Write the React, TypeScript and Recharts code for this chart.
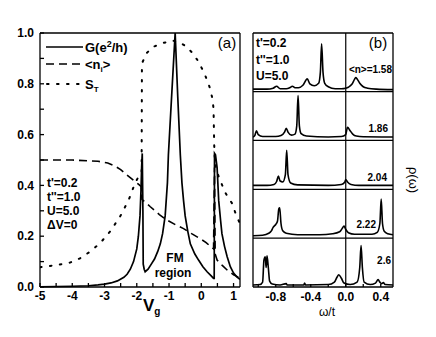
import React from 'react';
import { LineChart, Line, XAxis, YAxis, ReferenceLine } from 'recharts';

// Panel (a): conductance, occupation and spin correlation vs gate voltage
const G_CURVE: [number, number][] = [
  [-5, 0.001], [-4.5, 0.002], [-4, 0.003], [-3.5, 0.005], [-3.2, 0.008], [-3.0, 0.011],
  [-2.8, 0.016], [-2.6, 0.024], [-2.4, 0.038], [-2.3, 0.05], [-2.2, 0.07], [-2.1, 0.1],
  [-2.0, 0.15], [-1.95, 0.2], [-1.9, 0.28], [-1.87, 0.38], [-1.85, 0.47], [-1.83, 0.526],
  [-1.81, 0.3], [-1.8, 0.09], [-1.77, 0.07], [-1.74, 0.06], [-1.65, 0.07], [-1.55, 0.09],
  [-1.45, 0.11], [-1.35, 0.14], [-1.27, 0.17], [-1.2, 0.21], [-1.12, 0.28], [-1.05, 0.41],
  [-1.02, 0.52], [-0.92, 0.75], [-0.81, 1.0], [-0.73, 0.75], [-0.65, 0.52], [-0.6, 0.41],
  [-0.55, 0.34], [-0.5, 0.28], [-0.42, 0.22], [-0.34, 0.17], [-0.2, 0.13], [-0.08, 0.105],
  [0.05, 0.08], [0.18, 0.06], [0.3, 0.045], [0.38, 0.034], [0.4, 0.034], [0.41, 0.526],
  [0.44, 0.52], [0.49, 0.47], [0.54, 0.34], [0.6, 0.26], [0.64, 0.21], [0.72, 0.16],
  [0.8, 0.12], [0.9, 0.08], [1.0, 0.055], [1.1, 0.04], [1.2, 0.03],
];

const N_CURVE: [number, number][] = [
  [-5, 0.5], [-4, 0.5], [-3.2, 0.495], [-2.9, 0.488], [-2.7, 0.478], [-2.5, 0.462],
  [-2.3, 0.44], [-2.1, 0.42], [-1.95, 0.405], [-1.86, 0.395], [-1.84, 0.345], [-1.7, 0.33],
  [-1.58, 0.316], [-1.3, 0.285], [-1.07, 0.264], [-0.8, 0.245], [-0.55, 0.23], [-0.3, 0.21],
  [-0.03, 0.19], [0.15, 0.175], [0.28, 0.16], [0.38, 0.15], [0.41, 0.47], [0.43, 0.13],
  [0.49, 0.106], [0.65, 0.085], [0.8, 0.067], [1.0, 0.048], [1.13, 0.04], [1.2, 0.035],
];

const S_CURVE: [number, number][] = [
  [-5, 0.078], [-4.5, 0.086], [-4.07, 0.096], [-3.76, 0.113], [-3.45, 0.139], [-3.14, 0.172],
  [-2.83, 0.218], [-2.52, 0.277], [-2.26, 0.34], [-2.05, 0.41], [-1.92, 0.44], [-1.85, 0.45],
  [-1.84, 0.88], [-1.7, 0.92], [-1.5, 0.945], [-1.2, 0.96], [-0.9, 0.97], [-0.7, 0.965],
  [-0.5, 0.95], [-0.3, 0.925], [-0.1, 0.89], [0.1, 0.84], [0.25, 0.79], [0.35, 0.74],
  [0.38, 0.7], [0.4, 0.56], [0.42, 0.5], [0.45, 0.47], [0.55, 0.43], [0.75, 0.37],
  [0.95, 0.33], [1.09, 0.28], [1.2, 0.25],
];

const A_X_TICKS = [-5, -4.5, -4, -3.5, -3, -2.5, -2, -1.5, -1, -0.5, 0, 0.5, 1];
const A_Y_TICKS = [0, 0.1, 0.2, 0.3, 0.4, 0.5, 0.6, 0.7, 0.8, 0.9, 1.0];
const A_Y_LABELS = ['0.0', '', '0.2', '', '0.4', '', '0.6', '', '0.8', '', '1.0'];

// Panel (b): spectral densities, one strip per filling
const N_LABELS = ['<n>=1.58', '1.86', '2.04', '2.22', '2.6'];

const RHO_158: [number, number][] = [
  [-1.06, 0.05], [-0.9, 0.05], [-0.83, 0.07], [-0.79, 0.11], [-0.75, 0.06], [-0.68, 0.06],
  [-0.64, 0.08], [-0.61, 0.11], [-0.58, 0.08], [-0.54, 0.08], [-0.49, 0.13], [-0.44, 0.26],
  [-0.41, 0.16], [-0.36, 0.12], [-0.31, 0.17], [-0.29, 0.4], [-0.276, 0.98], [-0.26, 0.4],
  [-0.24, 0.17], [-0.2, 0.1], [-0.12, 0.06], [-0.05, 0.06], [0.0, 0.07], [0.03, 0.09],
  [0.07, 0.15], [0.1, 0.25], [0.114, 0.29], [0.13, 0.26], [0.16, 0.17], [0.2, 0.1],
  [0.25, 0.07], [0.35, 0.05], [0.54, 0.04],
];
const RHO_186: [number, number][] = [
  [-1.06, 0.07], [-1.04, 0.1], [-1.02, 0.2], [-1.0, 0.12], [-0.95, 0.08], [-0.8, 0.08],
  [-0.74, 0.1], [-0.7, 0.17], [-0.68, 0.25], [-0.66, 0.17], [-0.62, 0.11], [-0.58, 0.13],
  [-0.56, 0.3], [-0.545, 0.92], [-0.53, 0.3], [-0.51, 0.14], [-0.45, 0.09], [-0.2, 0.07],
  [-0.05, 0.08], [0.0, 0.12], [0.02, 0.27], [0.05, 0.2], [0.08, 0.13], [0.12, 0.09],
  [0.2, 0.075], [0.54, 0.07],
];
const RHO_204: [number, number][] = [
  [-1.06, 0.08], [-0.9, 0.08], [-0.82, 0.1], [-0.79, 0.16], [-0.77, 0.27], [-0.75, 0.17],
  [-0.72, 0.15], [-0.69, 0.3], [-0.675, 0.8], [-0.66, 0.3], [-0.63, 0.13], [-0.55, 0.09],
  [-0.2, 0.08], [-0.05, 0.1], [-0.01, 0.15], [0.0, 0.2], [0.02, 0.15], [0.06, 0.1],
  [0.15, 0.08], [0.54, 0.08],
];
const RHO_222: [number, number][] = [
  [-1.06, 0.05], [-0.95, 0.06], [-0.88, 0.1], [-0.85, 0.15], [-0.83, 0.22], [-0.8, 0.28],
  [-0.78, 0.35], [-0.765, 0.6], [-0.755, 0.62], [-0.74, 0.3], [-0.72, 0.15], [-0.68, 0.1],
  [-0.55, 0.07], [-0.3, 0.07], [-0.15, 0.09], [-0.07, 0.13], [-0.04, 0.2], [-0.02, 0.25],
  [0.0, 0.18], [0.03, 0.11], [0.1, 0.08], [0.3, 0.08], [0.36, 0.12], [0.39, 0.3],
  [0.405, 0.8], [0.42, 0.3], [0.44, 0.14], [0.48, 0.09], [0.54, 0.07],
];
const RHO_26: [number, number][] = [
  [-1.06, 0.04], [-0.98, 0.05], [-0.95, 0.1], [-0.935, 0.55], [-0.92, 0.62], [-0.91, 0.4],
  [-0.9, 0.64], [-0.885, 0.4], [-0.87, 0.12], [-0.84, 0.06], [-0.75, 0.04], [-0.68, 0.07],
  [-0.67, 0.04], [-0.48, 0.04], [-0.47, 0.08], [-0.46, 0.04], [-0.2, 0.05], [-0.13, 0.1],
  [-0.1, 0.2], [-0.08, 0.25], [-0.05, 0.18], [-0.02, 0.08], [0.05, 0.05], [0.13, 0.1],
  [0.16, 0.4], [0.175, 0.85], [0.19, 0.4], [0.21, 0.1], [0.28, 0.05], [0.34, 0.08],
  [0.37, 0.15], [0.39, 0.1], [0.41, 0.07], [0.43, 0.09], [0.45, 0.05], [0.54, 0.04],
];

const B_X_TICKS = [-1.0, -0.8, -0.6, -0.4, -0.2, 0, 0.2, 0.4];
const B_X_LABELS = ['', '-0.8', '', '-0.4', '', '0.0', '', '0.4'];

const FONT = '"Liberation Sans", Arial, sans-serif';
const tickStyle = { fill: '#000', fontSize: 12, fontWeight: 700, fontFamily: FONT };
const DOTS = '1.6 8.4';

const toXY = (pts: [number, number][], shift = 0) => pts.map(([x, y]) => ({ x, y: y + shift }));

const strips = [RHO_158, RHO_186, RHO_204, RHO_222, RHO_26];

export default function App() {
  return (
    <div style={{ position: 'fixed', left: 0, top: 0, width: 436, height: 337, background: '#fff' }}>
      <div style={{ position: 'absolute', left: 0, top: 0 }}>
        <LineChart width={260} height={337} margin={{ top: 32, right: 19, bottom: 20, left: 0 }}>
          <XAxis
            type="number"
            dataKey="x"
            domain={[-5, 1.2]}
            allowDataOverflow
            ticks={A_X_TICKS}
            tickFormatter={(v: number) => (Number.isInteger(v) ? String(v) : '')}
            tick={tickStyle}
            tickSize={-4}
            tickMargin={8}
            height={30}
            stroke="#000"
            strokeWidth={1.3}
          />
          <XAxis
            xAxisId="top"
            orientation="top"
            type="number"
            domain={[-5, 1.2]}
            ticks={A_X_TICKS}
            tickFormatter={() => ''}
            tickSize={-4}
            height={1}
            stroke="#000"
            strokeWidth={1.3}
          />
          <YAxis
            type="number"
            domain={[0, 1]}
            ticks={A_Y_TICKS}
            tickFormatter={(_v: number, i: number) => A_Y_LABELS[i]}
            tick={tickStyle}
            tickSize={-4}
            tickMargin={10}
            width={40}
            stroke="#000"
            strokeWidth={1.3}
          />
          <YAxis
            yAxisId="right"
            orientation="right"
            type="number"
            domain={[0, 1]}
            ticks={A_Y_TICKS}
            tickFormatter={() => ''}
            tickSize={-4}
            width={1}
            stroke="#000"
            strokeWidth={1.3}
          />
          <Line data={toXY(S_CURVE)} dataKey="y" type="linear" stroke="#000" strokeWidth={2}
            strokeDasharray={DOTS} strokeLinecap="round" dot={false} isAnimationActive={false} />
          <Line data={toXY(N_CURVE)} dataKey="y" type="linear" stroke="#000" strokeWidth={1.6}
            strokeDasharray="8 5" dot={false} isAnimationActive={false} />
          <Line data={toXY(G_CURVE)} dataKey="y" type="linear" stroke="#000" strokeWidth={1.7}
            dot={false} isAnimationActive={false} />
        </LineChart>
      </div>

      <div style={{ position: 'absolute', left: 252, top: 0 }}>
        <LineChart width={142} height={337} margin={{ top: 32, right: 0, bottom: 20, left: 0 }}>
          <XAxis
            type="number"
            dataKey="x"
            domain={[-1.06, 0.54]}
            allowDataOverflow
            ticks={B_X_TICKS}
            tickFormatter={(_v: number, i: number) => B_X_LABELS[i]}
            tick={tickStyle}
            tickSize={-3}
            tickMargin={8}
            height={30}
            stroke="#000"
            strokeWidth={1.3}
          />
          <XAxis
            xAxisId="top"
            orientation="top"
            type="number"
            domain={[-1.06, 0.54]}
            ticks={B_X_TICKS}
            tickFormatter={() => ''}
            tickSize={-4}
            height={1}
            stroke="#000"
            strokeWidth={1.3}
          />
          <YAxis type="number" domain={[0, 5.2]} allowDataOverflow tick={false} tickLine={false}
            width={1} stroke="#000" strokeWidth={1.3} />
          <YAxis yAxisId="right" orientation="right" type="number" domain={[0, 5.2]} tick={false}
            tickLine={false} width={1} stroke="#000" strokeWidth={1.3} />
          {[1, 2, 3, 4].map((y) => (
            <ReferenceLine key={y} y={y} stroke="#000" strokeWidth={1.2} />
          ))}
          <ReferenceLine x={0} stroke="#000" strokeWidth={1.2} />
          {strips.map((s, i) => (
            <Line key={i} data={toXY(s, 4 - i)} dataKey="y" type="monotone" stroke="#000"
              strokeWidth={1.6} dot={false} isAnimationActive={false} />
          ))}
        </LineChart>
      </div>

      <svg width={436} height={337} style={{ position: 'absolute', left: 0, top: 0, pointerEvents: 'none' }}
        fontFamily={FONT} fontWeight={700} fill="#000">
        {/* legend of panel (a) */}
        <line x1={46} x2={83} y1={47} y2={47} stroke="#000" strokeWidth={1.7} />
        <text x={85} y={52} fontSize={13}>G(e<tspan dy={-5} fontSize={9}>2</tspan><tspan dy={5}>/h)</tspan></text>
        <line x1={46} x2={83} y1={64} y2={64} stroke="#000" strokeWidth={1.6} strokeDasharray="8 5" />
        <text x={85} y={69} fontSize={13}>&lt;n<tspan dy={3} fontSize={8}>i</tspan><tspan dy={-3}>&gt;</tspan></text>
        <line x1={47} x2={83} y1={84} y2={84} stroke="#000" strokeWidth={2} strokeDasharray={DOTS} strokeLinecap="round" />
        <text x={85} y={89} fontSize={13}>S<tspan dy={3} fontSize={8}>T</tspan></text>

        <text x={227} y={48} fontSize={15} fontWeight={400} textAnchor="middle">(a)</text>
        <text x={378} y={48} fontSize={15} fontWeight={400} textAnchor="middle">(b)</text>

        <text x={47} y={187} fontSize={12}>t'=0.2</text>
        <text x={47} y={201} fontSize={12}>t''=1.0</text>
        <text x={47} y={215} fontSize={12}>U=5.0</text>
        <text x={47} y={229} fontSize={12}>ΔV=0</text>

        <text x={175} y={262} fontSize={12} textAnchor="middle">FM</text>
        <text x={173} y={277} fontSize={12} textAnchor="middle">region</text>

        <text x={256} y={47} fontSize={12}>t'=0.2</text>
        <text x={256} y={64} fontSize={12}>t''=1.0</text>
        <text x={256} y={80} fontSize={12}>U=5.0</text>

        <text x={392} y={73} fontSize={10} textAnchor="end">{N_LABELS[0]}</text>
        <text x={388} y={132} fontSize={10} textAnchor="end">{N_LABELS[1]}</text>
        <text x={387} y={181} fontSize={10} textAnchor="end">{N_LABELS[2]}</text>
        <text x={376} y={228} fontSize={10} textAnchor="end">{N_LABELS[3]}</text>
        <text x={391} y={264} fontSize={10} textAnchor="end">{N_LABELS[4]}</text>

        <text x={143} y={311} fontSize={17}>V<tspan dy={4} fontSize={10}>g</tspan></text>
        <text x={327} y={316} fontSize={12} fontWeight={400} textAnchor="middle">ω/t</text>
        <text x={0} y={0} fontSize={13} fontWeight={400} textAnchor="middle"
          transform="translate(409 180) rotate(90)">ρ(ω)</text>
      </svg>
    </div>
  );
}
